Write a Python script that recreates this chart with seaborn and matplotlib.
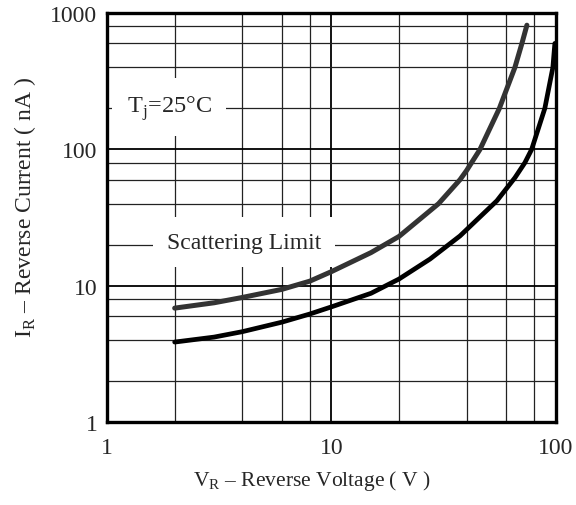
import numpy as np
import pandas as pd
import seaborn as sns
import matplotlib

matplotlib.use("Agg")
import matplotlib.pyplot as plt

# Values (log-log)
upper_v = [2, 3, 4, 6, 8, 10, 15, 20, 30, 37.4, 40, 45.9, 56, 65.7, 70.6, 74.3]
upper_i = [6.85, 7.5, 8.2, 9.4, 10.8, 12.7, 17.5, 23, 40, 60, 70, 100, 200, 400, 600, 816]

lower_v = [2, 3, 4, 6, 8, 10, 15, 20, 27.5, 37.4, 54.6, 65.7, 72.8, 78, 89.3, 97, 99]
lower_i = [3.86, 4.2, 4.6, 5.4, 6.2, 7.0, 8.8, 11.2, 15.7, 23.2, 42, 62, 80, 100, 200, 400, 600]

major_ticks = [1, 10, 100]
x_minor = [2, 4, 6, 8, 20, 40, 60, 80]
y_major = [1, 10, 100, 1000]
y_minor = [2, 4, 6, 8, 20, 40, 60, 80, 200, 400, 600, 800]

df = pd.concat(
    [
        pd.DataFrame({"v": upper_v, "i": upper_i, "curve": "upper"}),
        pd.DataFrame({"v": lower_v, "i": lower_i, "curve": "lower"}),
    ]
)

sns.set_style("white")
plt.rcParams["font.family"] = ["Liberation Serif", "DejaVu Serif"]
plt.rcParams["mathtext.fontset"] = "custom"
plt.rcParams["mathtext.rm"] = "Liberation Serif"

fig = plt.figure(figsize=(5.76, 5.06), dpi=100)
ax = fig.add_axes([0.186, 0.164, 0.779, 0.808])

ax.set_xscale("log")
ax.set_yscale("log")

sns.lineplot(
    data=df[df.curve == "upper"], x="v", y="i", ax=ax,
    color="#333333", linewidth=3.6, zorder=5, sort=False,
)
sns.lineplot(
    data=df[df.curve == "lower"], x="v", y="i", ax=ax,
    color="black", linewidth=3.4, zorder=5, sort=False,
)

ax.set_xlim(1, 100)
ax.set_ylim(1, 1000)
ax.set_xticks(major_ticks)
ax.set_xticklabels([str(t) for t in major_ticks])
ax.set_xticks(x_minor, minor=True)
ax.set_yticks(y_major)
ax.set_yticklabels([str(t) for t in y_major])
ax.set_yticks(y_minor, minor=True)
ax.tick_params(axis="both", which="both", length=0, labelsize=17)
ax.tick_params(axis="x", pad=11)
ax.tick_params(axis="y", pad=7)
ax.tick_params(axis="both", which="minor", labelleft=False, labelbottom=False)

ax.grid(which="major", color="black", linewidth=1.3, zorder=1)
ax.grid(which="minor", color="#222222", linewidth=0.9, zorder=1)
ax.set_axisbelow(True)

for side in ax.spines.values():
    side.set_linewidth(2.4)
    side.set_color("black")

ax.set_xlabel("V$_\\mathregular{R}$ – Reverse Voltage ( V )", fontsize=15.5)
ax.set_ylabel("I$_\\mathregular{R}$ – Reverse Current ( nA )", fontsize=17)
ax.xaxis.set_label_coords(0.457, -0.112)
ax.yaxis.set_label_coords(-0.155, 0.526)

box = dict(facecolor="white", edgecolor="none", boxstyle="square,pad=0.6")
ax.text(1.89, 204, "T$_\\mathregular{j}$=25°C", fontsize=17.5,
        ha="center", va="center", zorder=4, bbox=box)
ax.text(4.08, 20.9, "Scattering Limit", fontsize=17,
        ha="center", va="center", zorder=4, bbox=box)

fig.savefig("out.png", dpi=100)
